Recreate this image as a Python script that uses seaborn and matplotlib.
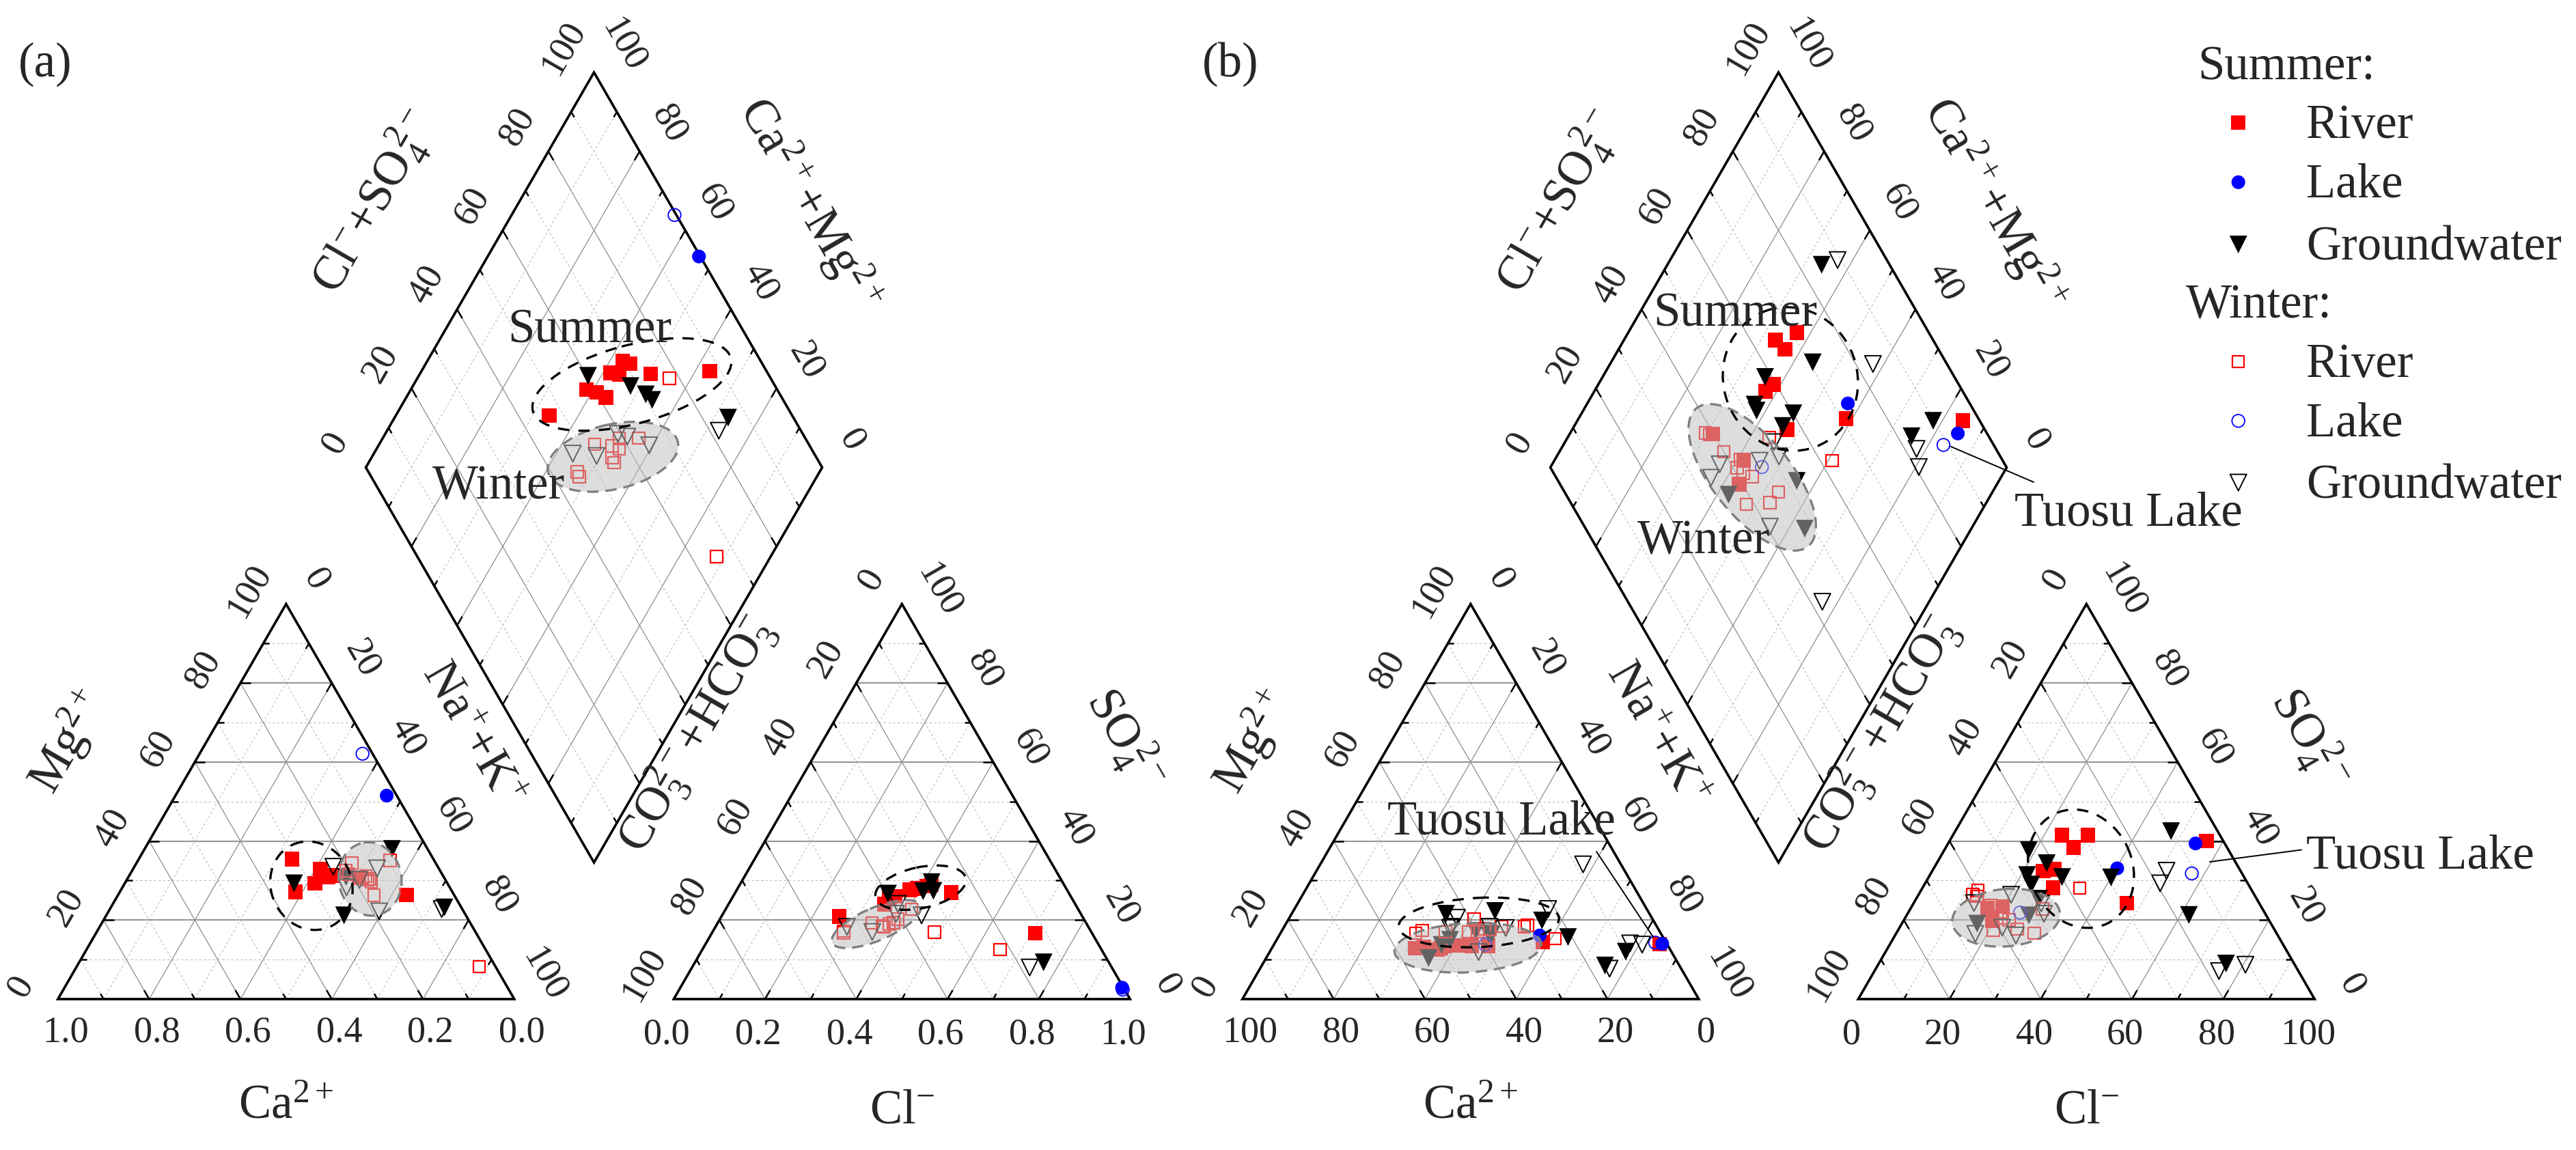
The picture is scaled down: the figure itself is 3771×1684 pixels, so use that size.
import numpy as np
import pandas as pd
import matplotlib
matplotlib.use("Agg")
import matplotlib.pyplot as plt
from matplotlib import font_manager
from matplotlib.patches import Ellipse, Polygon
import seaborn as sns

sns.set_theme(style="white")

# Times-like serif; fall back to the STIX fonts shipped with matplotlib
serif = "STIXGeneral"
for name in ["Liberation Serif", "Times New Roman"]:
    try:
        font_manager.findfont(name, fallback_to_default=False)
        serif = name
        break
    except Exception:
        pass
plt.rcParams["font.family"] = [serif, "STIXGeneral", "DejaVu Serif"]
plt.rcParams["mathtext.fontset"] = "custom"
plt.rcParams["mathtext.rm"] = serif
plt.rcParams["mathtext.it"] = serif + ":italic"
plt.rcParams["mathtext.bf"] = serif + ":bold"

# ---------------- data (meq %) ----------------
# panel (a)
a_sr_ca = [31.0, 34.4, 26.0, 29.0, 26.0, 25.0, 25.3, 24.0, 18.7, 10.4]
a_sr_mg = [35.4, 27.1, 32.9, 29.3, 31.2, 31.2, 30.9, 31.3, 30.7, 26.4]
a_sr_cl = [25.8, 34.2, 34.4, 37.9, 41.2, 39.3, 35.5, 42.0, 47.3, 70.9]
a_sr_so4 = [20.9, 24.0, 25.7, 27.7, 28.6, 28.0, 26.0, 29.0, 27.0, 16.7]
a_sl_ca, a_sl_mg, a_sl_cl, a_sl_so4 = [2.2], [51.5], [96.8], [2.9]
a_sg_ca = [33.6, 21.4, 26.7, 7.8, 3.7]
a_sg_mg = [29.3, 30.9, 21.2, 38.0, 23.2]
a_sg_cl = [33.6, 41.0, 43.2, 41.7, 76.4]
a_sg_so4 = [26.7, 27.3, 27.4, 29.6, 9.3]
a_wr_ca = [9.7, 18.4, 18.0, 16.4, 17.0, 17.6, 17.0, 16.5, 20.6, 20.5, 3.6]
a_wr_mg = [35.1, 34.4, 30.7, 30.4, 31.1, 26.3, 30.2, 29.7, 32.5, 31.6, 8.2]
a_wr_cl = [65.3, 33.8, 37.7, 38.5, 39.0, 40.8, 37.0, 36.5, 28.6, 28.8, 48.7]
a_wr_so4 = [12.5, 19.3, 19.0, 19.4, 20.2, 22.7, 18.2, 18.5, 17.2, 16.8, 16.9]
a_wl_ca, a_wl_mg, a_wl_cl, a_wl_so4 = [2.2], [62.1], [97.2], [2.4]
a_wg_ca = [22.9, 22.6, 18.8, 13.5, 18.5, 4.5]
a_wg_mg = [33.5, 28.3, 30.2, 33.1, 22.2, 22.8]
a_wg_cl = [28.8, 35.0, 37.9, 37.1, 43.7, 74.0]
a_wg_so4 = [18.3, 17.0, 21.6, 24.1, 21.2, 8.0]

# panel (b)
b_sr_ca = [50.1, 53.6, 51.0, 48.0, 49.0, 27.0, 39.4, 1.6, 55.7, 45.0, 43.0]
b_sr_mg = [12.9, 13.2, 12.5, 13.6, 13.5, 14.4, 13.5, 13.9, 12.9, 13.6, 13.5]
b_sr_cl = [29.6, 23.9, 28.0, 26.6, 28.6, 46.7, 24.3, 56.3, 16.8, 19.9, 19.5]
b_sr_so4 = [41.5, 41.5, 38.4, 32.8, 28.2, 24.3, 32.4, 40.0, 23.1, 23.4, 19.8]
b_sl_ca, b_sl_mg, b_sl_cl, b_sl_so4 = [26.8, 1.0], [16.1, 14.0], [40.2, 54.2], [33.1, 39.4]
b_sg_ca = [44.6, 10.0, 16.3, 33.5, 54.0, 49.5, 37.1, 37.8, 24.4, 40.3, 20.8, 47.0]
b_sg_mg = [21.6, 12.0, 8.5, 22.3, 10.4, 13.7, 16.5, 16.5, 19.9, 17.2, 15.7, 15.0]
b_sg_cl = [76.1, 47.3, 61.8, 40.0, 24.1, 21.3, 29.2, 18.5, 26.9, 16.5, 26.8, 23.4]
b_sg_so4 = [9.0, 42.5, 21.3, 30.8, 34.4, 31.4, 30.9, 37.7, 25.4, 19.1, 21.2, 29.0]
b_wr_ca = [53.7, 47.0, 39.1, 42.0, 40.0, 38.0, 37.0, 28.2, 29.1, 34.0, 23.8, 51.9]
b_wr_mg = [16.7, 17.0, 20.3, 17.0, 17.0, 17.8, 17.6, 18.7, 18.3, 18.4, 15.3, 17.4]
b_wr_cl = [11.9, 12.5, 20.5, 17.1, 20.9, 29.0, 23.0, 30.2, 26.0, 20.9, 34.5, 13.0]
b_wr_so4 = [26.4, 27.5, 22.1, 23.8, 20.6, 22.8, 20.1, 16.7, 17.7, 17.4, 28.1, 26.0]
b_wl_ca, b_wl_mg, b_wl_cl, b_wl_so4 = [2.4, 39.9], [14.3, 13.8], [57.2, 24.5], [31.8, 21.9]
b_wg_ca = [42.7, 8.3, 8.0, 5.5, 15.7, 45.0, 45.5, 36.7, 33.3, 21.6, 42.3]
b_wg_mg = [20.6, 34.1, 14.1, 13.8, 7.7, 18.3, 18.0, 18.3, 18.0, 22.8, 11.9]
b_wg_cl = [80.5, 51.3, 75.5, 51.5, 26.5, 13.2, 17.4, 20.3, 29.9, 22.5, 28.0]
b_wg_so4 = [8.7, 32.5, 7.1, 29.3, 16.1, 24.3, 16.5, 26.4, 21.6, 18.1, 24.2]

seasons = ["Summer", "Winter"]
sources = ["River", "Lake", "Groundwater"]

# ---------------- geometry (pixel space) ----------------
W = 668.0
H = W * np.sqrt(3) / 2
BASE = 1463.0
GAP = 233.5
DIA_BY = 1263.0
PANEL_X = {"a": 84.8, "b": 1818.8}


def frames(p):
    q = p + W + GAP
    cat = np.array([[p, BASE], [p + W / 2, BASE - H], [p + W, BASE]])
    an = np.array([[q, BASE], [q + W / 2, BASE - H], [q + W, BASE]])
    bx = p + W + GAP / 2
    B = np.array([bx, DIA_BY])
    R = np.array([bx + W / 2, DIA_BY - H])
    L = np.array([bx - W / 2, DIA_BY - H])
    return cat, an, (B, R, L)


def tri(corners, f):
    return f[0] * corners[0] + f[1] * corners[1] + f[2] * corners[2]


def dia(d, a, c):
    B, R, L = d
    return B + a * (R - B) + c * (L - B)


def build(prefix):
    rows = []
    g = globals()
    for s in seasons:
        for src in sources:
            key = prefix + "_" + s[0].lower() + src[0].lower()
            for ca, mg, cl, so4 in zip(g[key + "_ca"], g[key + "_mg"], g[key + "_cl"], g[key + "_so4"]):
                rows.append(dict(season=s, source=src, ca=ca, mg=mg, cl=cl, so4=so4))
    df = pd.DataFrame(rows)
    cat, an, d = frames(PANEL_X[prefix])
    out = []
    for _, r in df.iterrows():
        na = 100 - r.ca - r.mg
        hco3 = 100 - r.cl - r.so4
        c1 = tri(cat, [r.ca / 100, r.mg / 100, na / 100])
        a1 = tri(an, [hco3 / 100, r.so4 / 100, r.cl / 100])
        d1 = dia(d, (r.cl + r.so4) / 100, (r.ca + r.mg) / 100)
        out.append([*c1, *a1, *d1])
    df[["cx", "cy", "ax", "ay", "dx", "dy"]] = np.array(out)
    return df


STYLE = {
    ("Summer", "River"): dict(marker="s", s=240, color="#ff0000", edgecolor="none", linewidth=0),
    ("Summer", "Lake"): dict(marker="o", s=210, color="#0000ff", edgecolor="none", linewidth=0),
    ("Summer", "Groundwater"): dict(marker="v", s=350, color="black", edgecolor="none", linewidth=0),
    ("Winter", "River"): dict(marker="s", s=160, facecolor="none", edgecolor="#ff0000", linewidth=1.6),
    ("Winter", "Lake"): dict(marker="o", s=180, facecolor="none", edgecolor="#0000ff", linewidth=1.3),
    ("Winter", "Groundwater"): dict(marker="v", s=300, facecolor="none", edgecolor="black", linewidth=1.4),
}

TICK_FS = 39
LAB_FS = 51
GRID_MAJ = dict(color="#8c8c8c", lw=0.9, zorder=1)
GRID_MIN = dict(color="#bdbdbd", lw=0.8, ls=(0, (3, 3)), zorder=1)

fig = plt.figure(figsize=(37.71, 16.84), dpi=100)
ax = fig.add_axes([0, 0, 1, 1])


def seg(p1, p2, **kw):
    ax.plot([p1[0], p2[0]], [p1[1], p2[1]], solid_capstyle="butt", **kw)


def draw_triangle(corners, tick_specs):
    for k in range(10, 100, 10):
        f = k / 100
        for i in range(3):
            j, l = [m for m in range(3) if m != i]
            fa = np.zeros(3); fa[i] = f; fa[j] = 1 - f
            fb = np.zeros(3); fb[i] = f; fb[l] = 1 - f
            p1, p2 = tri(corners, fa), tri(corners, fb)
            if k % 20 == 0:
                kw = dict(GRID_MAJ)
                if i == 1:
                    kw["lw"] = 1.6
                    kw["color"] = "#9a9a9a"
                seg(p1, p2, **kw)
            else:
                seg(p1, p2, **GRID_MIN)
    ax.add_patch(Polygon(corners, closed=True, fill=False, ec="black", lw=2.6, zorder=2, joinstyle="miter"))
    # inward ticks: (component, edge partner, free component)
    for i, j, l in tick_specs:
        for k in range(10, 100, 10):
            f = k / 100
            fa = np.zeros(3); fa[i] = f; fa[j] = 1 - f
            fb = np.zeros(3); fb[i] = f; fb[l] = 1 - f
            p1, p2 = tri(corners, fa), tri(corners, fb)
            u = (p2 - p1) / np.linalg.norm(p2 - p1)
            ln = 15 if k % 20 == 0 else 9
            seg(p1, p1 + u * ln, color="black", lw=1.8, zorder=2)


def draw_diamond(d):
    for k in range(10, 100, 10):
        f = k / 100
        kw = GRID_MAJ if k % 20 == 0 else GRID_MIN
        seg(dia(d, f, 0), dia(d, f, 1), **kw)
        seg(dia(d, 0, f), dia(d, 1, f), **kw)
    B, R, L = d
    T = R + L - B
    ax.add_patch(Polygon([B, R, T, L], closed=True, fill=False, ec="black", lw=2.6, zorder=2, joinstyle="miter"))
    for k in range(10, 100, 10):
        f = k / 100
        ln = 15 if k % 20 == 0 else 9
        for p1, p2 in [(dia(d, f, 1), dia(d, f, 0)), (dia(d, 1, f), dia(d, 0, f)),
                       (dia(d, 0, f), dia(d, 1, f)), (dia(d, f, 0), dia(d, f, 1))]:
            u = (p2 - p1) / np.linalg.norm(p2 - p1)
            seg(p1, p1 + u * ln, color="black", lw=1.8, zorder=2)


def txt(p, s, off=(0, 0), rot=0, fs=TICK_FS, **kw):
    ax.text(p[0] + off[0], p[1] + off[1], s, fontsize=fs, rotation=rot,
            ha="center", va="center", rotation_mode="anchor", zorder=6, **kw)


def draw_labels(prefix, cat, an, d):
    vals = range(0, 101, 20)
    B, R, L = d
    T = R + L - B
    for k in vals:
        f = k / 100
        blab = f"{f:.1f}" if prefix == "a" else f"{k}"
        blab2 = f"{1 - f:.1f}" if prefix == "a" else f"{100 - k}"
        # cation: Ca along bottom (100 at left), Mg left, Na right
        txt(cat[0] + f * (cat[2] - cat[0]), blab2, (11, 49))
        txt(cat[0] + f * (cat[1] - cat[0]), f"{k}", (-54, -19), 60)
        txt(cat[1] + f * (cat[2] - cat[1]), f"{k}", (44, -36), -60)
        # anion: Cl along bottom, HCO3 left (0 at apex), SO4 right
        txt(an[0] + f * (an[2] - an[0]), blab, (-10, 52))
        txt(an[1] + f * (an[0] - an[1]), f"{k}", (-44, -36), 60)
        txt(an[2] + f * (an[1] - an[2]), f"{k}", (54, -20), -60)
        # diamond
        txt(L + f * (T - L), f"{k}", (-45, -36), 60)
        txt(R + f * (T - R), f"{k}", (43, -40), -60)
    n_left = np.array([-0.866, -0.5])
    n_right = np.array([0.866, -0.5])
    txt([(cat[0][0] + cat[2][0]) / 2, 1620], r"Ca$^{2+}$", fs=LAB_FS)
    txt((cat[0] + cat[1]) / 2 + 175 * n_left, r"Mg$^{2+}$", rot=60, fs=LAB_FS)
    txt((cat[1] + cat[2]) / 2 + 141 * n_right + 32 * np.array([-0.5, -0.866]),
        r"Na$^{+}$+K$^{+}$", rot=-60, fs=LAB_FS)
    txt([(an[0][0] + an[2][0]) / 2, 1627], r"Cl$^{-}$", fs=LAB_FS)
    txt((an[0] + an[1]) / 2 + 166 * n_left + 18 * np.array([0.5, -0.866]),
        r"CO$_3^{2-}$+HCO$_3^{-}$", rot=60, fs=LAB_FS)
    txt((an[1] + an[2]) / 2 + 184 * n_right, r"SO$_4^{\,2-}$", rot=-60, fs=LAB_FS)
    txt((L + T) / 2 + np.array([-154, -99]), r"Cl$^{-}$+SO$_4^{\,2-}$", rot=60, fs=LAB_FS)
    txt((R + T) / 2 + np.array([149, -96]), r"Ca$^{2+}$+Mg$^{2+}$", rot=-60, fs=LAB_FS)


# ellipse centres given in composition terms, sizes in pixels
ELL = {
    "a": {
        "Summer": dict(cat=(30.1, 28.7, 118, 132, -25), an=(40.0, 28.2, 135, 60, -12), dia=(68.8, 52.2, 300, 115, -15)),
        "Winter": dict(cat=(16.4, 30.4, 92, 108, -10), an=(34.9, 19.0, 140, 48, -23), dia=(55.5, 47.2, 195, 95, -13)),
    },
    "b": {
        "Summer": dict(cat=(38.5, 19.4, 235, 72, -3), an=(32.3, 33.0, 178, 150, 65), dia=(63.8, 58.6, 196, 212, -20)),
        "Winter": dict(cat=(44.1, 13.0, 215, 72, -3), an=(22.1, 20.6, 158, 84, -5), dia=(43.0, 54.5, 260, 115, 51)),
    },
}


def draw_ellipses(prefix, cat, an, d):
    for season, parts in ELL[prefix].items():
        for name, (u, v, w, h, ang) in parts.items():
            if name == "cat":
                c = tri(cat, [u / 100, v / 100, (100 - u - v) / 100])
            elif name == "an":
                c = tri(an, [(100 - u - v) / 100, v / 100, u / 100])
            else:
                c = dia(d, u / 100, v / 100)
            if season == "Winter":
                e = Ellipse(c, w, h, angle=ang, fc=(0.75, 0.75, 0.75, 0.52), ec="#7f7f7f",
                            lw=2.4, ls=(0, (5, 3)), zorder=4)
            else:
                e = Ellipse(c, w, h, angle=ang, fill=False, ec="black", lw=2.4, ls=(0, (5, 4)), zorder=5)
            ax.add_patch(e)


for prefix in ["a", "b"]:
    cat, an, d = frames(PANEL_X[prefix])
    draw_triangle(cat, [(0, 2, 1), (1, 0, 2), (2, 1, 0)])
    draw_triangle(an, [(2, 0, 1), (0, 1, 2), (1, 2, 0)])
    draw_diamond(d)
    draw_labels(prefix, cat, an, d)
    df = build(prefix)
    for (season, src), st in STYLE.items():
        sub = df[(df.season == season) & (df.source == src)]
        for xc, yc in [("cx", "cy"), ("ax", "ay"), ("dx", "dy")]:
            sns.scatterplot(data=sub, x=xc, y=yc, ax=ax, zorder=3, legend=False, **st)
    draw_ellipses(prefix, cat, an, d)

# annotations
ax.text(66, 94, "(a)", fontsize=LAB_FS, ha="center", va="center")
ax.text(1801, 94, "(b)", fontsize=LAB_FS, ha="center", va="center")
ax.text(863, 501, "Summer", fontsize=LAB_FS, ha="center", va="baseline", zorder=6)
ax.text(730, 731, "Winter", fontsize=LAB_FS, ha="center", va="baseline", zorder=6)
ax.text(2540, 477, "Summer", fontsize=LAB_FS, ha="center", va="baseline", zorder=6)
ax.text(2494, 811, "Winter", fontsize=LAB_FS, ha="center", va="baseline", zorder=6)
ax.text(2198, 1221, "Tuosu Lake", fontsize=LAB_FS, ha="center", va="baseline", zorder=6)
ax.text(3116, 770, "Tuosu Lake", fontsize=LAB_FS, ha="center", va="baseline", zorder=6)
ax.text(3543, 1271, "Tuosu Lake", fontsize=LAB_FS, ha="center", va="baseline", zorder=6)
ax.plot([2856, 2977], [654, 706], color="black", lw=1.4, zorder=6)
ax.plot([2337, 2420], [1247, 1372], color="black", lw=1.4, zorder=6)
ax.plot([3235, 3369], [1262, 1244.5], color="black", lw=1.4, zorder=6)

# legend
leg_y = {"Summer": [179.6, 266.8, 358.0], "Winter": [529.6, 616.3, 706.6]}
leg_head = {"Summer": (3217.7, 116.3), "Winter": (3199.7, 465.3)}
for season in seasons:
    hx, hy = leg_head[season]
    ax.text(hx, hy, season + ":", fontsize=LAB_FS, ha="left", va="baseline")
    for src, yy in zip(sources, leg_y[season]):
        sns.scatterplot(x=[3276.7], y=[yy], ax=ax, legend=False, zorder=3, **STYLE[(season, src)])
        ax.text(3376, yy + 22, src, fontsize=LAB_FS, ha="left", va="baseline")

ax.set_xlim(0, 3771)
ax.set_ylim(1684, 0)
ax.axis("off")
fig.savefig("out.png", dpi=100, facecolor="white")
